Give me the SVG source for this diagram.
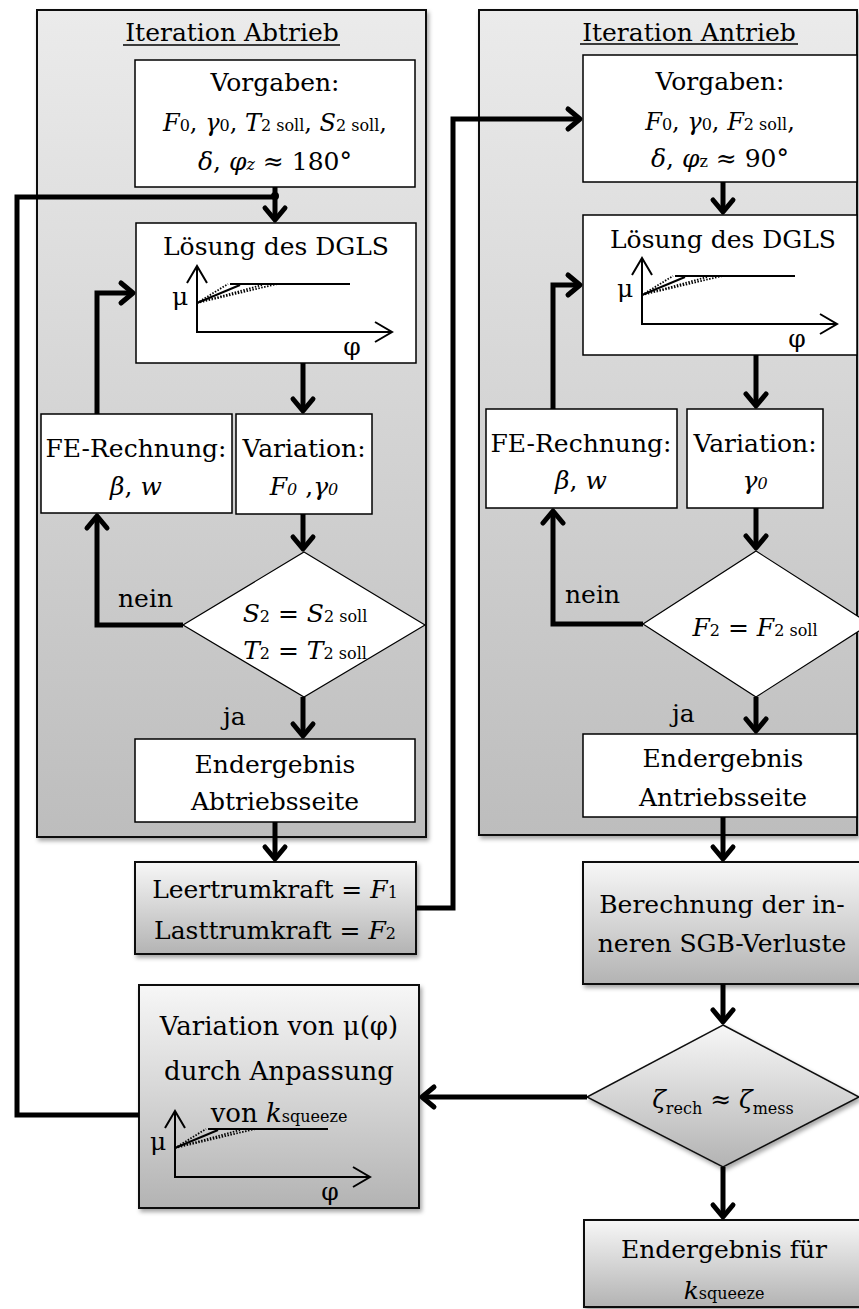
<svg xmlns="http://www.w3.org/2000/svg" width="859" height="1309" viewBox="0 0 859 1309">
  <defs>
    <style>
      .t { font-family: "DejaVu Serif", "Liberation Serif", serif; font-size: 25px; fill: #000; text-anchor: middle; }
      .l { text-anchor: start; }
      .i { font-style: italic; }
      .s { font-size: 16px; }
      .box { fill: #fff; stroke: #000; stroke-width: 1.5; }
      .gbox { fill: url(#gBox); stroke: #111; stroke-width: 2; filter: url(#sh); }
      .cont { fill: url(#gCont); stroke: #111; stroke-width: 2; filter: url(#sh); }
      .dia { fill: #fff; stroke: #000; stroke-width: 1.2; }
      .conn { fill: none; stroke: #000; stroke-width: 5; stroke-linejoin: miter; }
      .arrow { marker-end: url(#arr); }
      .ax { fill: none; stroke: #000; stroke-width: 2; }
      .dot { fill: none; stroke: #000; stroke-width: 1.8; stroke-dasharray: 1.5 1.5; }
      .ul { stroke: #000; stroke-width: 1.5; }
    </style>
    <linearGradient id="gCont" x1="0" y1="0" x2="0" y2="1">
      <stop offset="0" stop-color="#ebebeb"/>
      <stop offset="1" stop-color="#bdbdbd"/>
    </linearGradient>
    <linearGradient id="gBox" x1="0" y1="0" x2="0" y2="1">
      <stop offset="0" stop-color="#f7f7f7"/>
      <stop offset="1" stop-color="#b3b3b3"/>
    </linearGradient>
    <filter id="sh" x="-5%" y="-5%" width="115%" height="115%">
      <feDropShadow dx="2" dy="3" stdDeviation="2" flood-color="#000" flood-opacity="0.35"/>
    </filter>
    <marker id="arr" markerUnits="userSpaceOnUse" markerWidth="30" markerHeight="30" refX="0" refY="0" orient="auto" overflow="visible">
      <path d="M-12,-10 L0,0 L-12,10" fill="none" stroke="#000" stroke-width="5" stroke-linecap="round" stroke-linejoin="round"/>
    </marker>
  </defs>

  <!-- output side iteration frame -->
  <g id="frame-abtrieb">
    <rect class="cont" x="37" y="10" width="389" height="827"/>
    <text class="t" x="232" y="41">Iteration Abtrieb</text>
    <line class="ul" x1="123" y1="45" x2="340" y2="45"/>
  </g>

  <!-- input side iteration frame -->
  <g id="frame-antrieb">
    <rect class="cont" x="479" y="10" width="378" height="825"/>
    <text class="t" x="689" y="41">Iteration Antrieb</text>
    <line class="ul" x1="580" y1="44" x2="798" y2="44"/>
  </g>

  <!-- output side -->
  <g id="vorgaben-abtrieb">
    <rect class="box" x="135" y="60" width="280" height="127"/>
    <text class="t" x="275" y="91">Vorgaben:</text>
    <text class="t" x="275" y="131" style="font-size:24px"><tspan class="i">F</tspan><tspan class="s">0</tspan>, <tspan class="i">γ</tspan><tspan class="s">0</tspan>, <tspan class="i">T</tspan><tspan class="s">2 soll</tspan>, <tspan class="i">S</tspan><tspan class="s">2 soll</tspan>,</text>
    <text class="t" x="275" y="170"><tspan class="i">δ</tspan>, <tspan class="i">φ</tspan><tspan class="s i">z</tspan> ≈ 180°</text>
  </g>

  <g id="loesung-abtrieb">
    <rect class="box" x="136" y="223" width="280" height="140"/>
    <text class="t" x="276" y="255">Lösung des DGLS</text>
    <g transform="translate(197,332)">
      <path class="ax" d="M0,-66 V0 H195"/>
      <path class="ax" d="M-10,-49 L0,-66 L10,-49"/>
      <path class="ax" d="M178,-10 L195,0 L178,10"/>
      <path class="ax" d="M33,-48 H153"/>
      <path class="ax" d="M0,-29 L43,-47"/>
      <path class="dot" d="M0,-29 L31,-48 M0,-29 L65,-47 M0,-29 L80,-48"/>
      <text class="t" x="-17" y="-27">μ</text>
      <text class="t" x="155" y="23">φ</text>
    </g>
  </g>

  <g id="fe-abtrieb">
    <rect class="box" x="41" y="414" width="191" height="99"/>
    <text class="t" x="136" y="457">FE-Rechnung:</text>
    <text class="t" x="136" y="495"><tspan class="i">β</tspan>, <tspan class="i">w</tspan></text>
  </g>

  <g id="variation-abtrieb">
    <rect class="box" x="236" y="414" width="136" height="100"/>
    <text class="t" x="304" y="457">Variation:</text>
    <text class="t" x="304" y="495"><tspan class="i">F</tspan><tspan class="s i">0</tspan> ,<tspan class="i">γ</tspan><tspan class="s i">0</tspan></text>
  </g>

  <g id="check-abtrieb">
    <polygon class="dia" points="304,552 425,625 304,697 183,625"/>
    <text class="t" x="305" y="622"><tspan class="i">S</tspan><tspan class="s">2</tspan> = <tspan class="i">S</tspan><tspan class="s">2 soll</tspan></text>
    <text class="t" x="305" y="659"><tspan class="i">T</tspan><tspan class="s">2</tspan> = <tspan class="i">T</tspan><tspan class="s">2 soll</tspan></text>
  </g>

  <g id="ergebnis-abtrieb">
    <rect class="box" x="135" y="739" width="280" height="83"/>
    <text class="t" x="275" y="773">Endergebnis</text>
    <text class="t" x="275" y="810">Abtriebsseite</text>
  </g>

  <!-- input side -->
  <g id="vorgaben-antrieb">
    <rect class="box" x="583" y="55" width="274" height="127"/>
    <text class="t" x="720" y="90">Vorgaben:</text>
    <text class="t" x="720" y="130" style="font-size:24px"><tspan class="i">F</tspan><tspan class="s">0</tspan>, <tspan class="i">γ</tspan><tspan class="s">0</tspan>, <tspan class="i">F</tspan><tspan class="s">2 soll</tspan>,</text>
    <text class="t" x="720" y="167"><tspan class="i">δ</tspan>, <tspan class="i">φ</tspan><tspan class="s">z</tspan> ≈ 90°</text>
  </g>

  <g id="loesung-antrieb">
    <rect class="box" x="583" y="215" width="274" height="140"/>
    <text class="t" x="723" y="248">Lösung des DGLS</text>
    <g transform="translate(642,324)">
      <path class="ax" d="M0,-66 V0 H195"/>
      <path class="ax" d="M-10,-49 L0,-66 L10,-49"/>
      <path class="ax" d="M178,-10 L195,0 L178,10"/>
      <path class="ax" d="M33,-48 H153"/>
      <path class="ax" d="M0,-29 L43,-47"/>
      <path class="dot" d="M0,-29 L31,-48 M0,-29 L65,-47 M0,-29 L80,-48"/>
      <text class="t" x="-17" y="-27">μ</text>
      <text class="t" x="155" y="23">φ</text>
    </g>
  </g>

  <g id="fe-antrieb">
    <rect class="box" x="486" y="409" width="191" height="99"/>
    <text class="t" x="581" y="452">FE-Rechnung:</text>
    <text class="t" x="581" y="489"><tspan class="i">β</tspan>, <tspan class="i">w</tspan></text>
  </g>

  <g id="variation-antrieb">
    <rect class="box" x="687" y="409" width="136" height="99"/>
    <text class="t" x="755" y="452">Variation:</text>
    <text class="t" x="755" y="489"><tspan class="i">γ</tspan><tspan class="s i">0</tspan></text>
  </g>

  <g id="check-antrieb">
    <polygon class="dia" points="756,551 870,624 756,697 643,624"/>
    <text class="t" x="755" y="636"><tspan class="i">F</tspan><tspan class="s">2</tspan> = <tspan class="i">F</tspan><tspan class="s">2 soll</tspan></text>
  </g>

  <g id="ergebnis-antrieb">
    <rect class="box" x="583" y="734" width="274" height="83"/>
    <text class="t" x="723" y="767">Endergebnis</text>
    <text class="t" x="723" y="806">Antriebsseite</text>
  </g>

  <!-- belt forces and loss evaluation -->
  <g id="trumkraefte">
    <rect class="gbox" x="135" y="862" width="281" height="92"/>
    <text class="t" x="275" y="898">Leertrumkraft = <tspan class="i">F</tspan><tspan class="s">1</tspan></text>
    <text class="t" x="275" y="939">Lasttrumkraft = <tspan class="i">F</tspan><tspan class="s">2</tspan></text>
  </g>

  <g id="verluste">
    <rect class="gbox" x="583" y="862" width="280" height="122"/>
    <text class="t" x="722" y="913">Berechnung der in-</text>
    <text class="t" x="722" y="952">neren SGB-Verluste</text>
  </g>

  <g id="check-zeta">
    <polygon points="723,1025 859,1097 723,1167 587,1097" fill="url(#gBox)" stroke="#111" stroke-width="1.5" filter="url(#sh)"/>
    <text class="t" x="723" y="1108"><tspan class="i">ζ</tspan><tspan class="s" dy="6">rech</tspan><tspan dy="-6"> ≈ </tspan><tspan class="i">ζ</tspan><tspan class="s" dy="6">mess</tspan></text>
  </g>

  <g id="variation-mu">
    <rect class="gbox" x="139" y="985" width="280" height="223"/>
    <text class="t" x="279" y="1035" style="font-size:26px">Variation von μ(φ)</text>
    <text class="t" x="279" y="1080" style="font-size:26px">durch Anpassung</text>
    <text class="t" x="279" y="1122" style="font-size:26px">von <tspan class="i">k</tspan><tspan class="s">squeeze</tspan></text>
    <g transform="translate(175,1177)">
      <path class="ax" d="M0,-66 V0 H195"/>
      <path class="ax" d="M-10,-49 L0,-66 L10,-49"/>
      <path class="ax" d="M178,-10 L195,0 L178,10"/>
      <path class="ax" d="M33,-48 H153"/>
      <path class="ax" d="M0,-29 L43,-47"/>
      <path class="dot" d="M0,-29 L31,-48 M0,-29 L65,-47 M0,-29 L80,-48"/>
      <text class="t" x="-17" y="-27">μ</text>
      <text class="t" x="155" y="23">φ</text>
    </g>
  </g>

  <g id="ergebnis-k">
    <rect class="gbox" x="584" y="1220" width="280" height="87"/>
    <text class="t" x="724" y="1258">Endergebnis für</text>
    <text class="t" x="724" y="1299"><tspan class="i">k</tspan><tspan class="s">squeeze</tspan></text>
  </g>

  <!-- connectors -->
  <g id="connectors">
    <path class="conn" d="M139,1115 H17 V197 H275"/>
    <circle cx="275" cy="196" r="4" fill="#000"/>
    <path class="conn arrow" d="M275,187 V220"/>
    <path class="conn arrow" d="M303,363 V411"/>
    <path class="conn arrow" d="M303,514 V549"/>
    <path class="conn arrow" d="M303,697 V736"/>
    <path class="conn arrow" d="M183,625 H97 V516"/>
    <path class="conn arrow" d="M97,414 V293 H133"/>
    <path class="conn arrow" d="M275,822 V859"/>
    <path class="conn arrow" d="M416,908 H453 V119 H580"/>
    <path class="conn arrow" d="M723,182 V212"/>
    <path class="conn arrow" d="M756,355 V406"/>
    <path class="conn arrow" d="M756,508 V548"/>
    <path class="conn arrow" d="M756,697 V731"/>
    <path class="conn arrow" d="M643,624 H553 V511"/>
    <path class="conn arrow" d="M553,409 V285 H580"/>
    <path class="conn arrow" d="M723,817 V859"/>
    <path class="conn arrow" d="M723,984 V1022"/>
    <path class="conn arrow" d="M587,1097 H422"/>
    <path class="conn arrow" d="M723,1167 V1217"/>
    <text class="t l" x="118" y="607">nein</text>
    <text class="t l" x="223" y="725">ja</text>
    <text class="t l" x="565" y="603">nein</text>
    <text class="t l" x="672" y="722">ja</text>
  </g>
</svg>
